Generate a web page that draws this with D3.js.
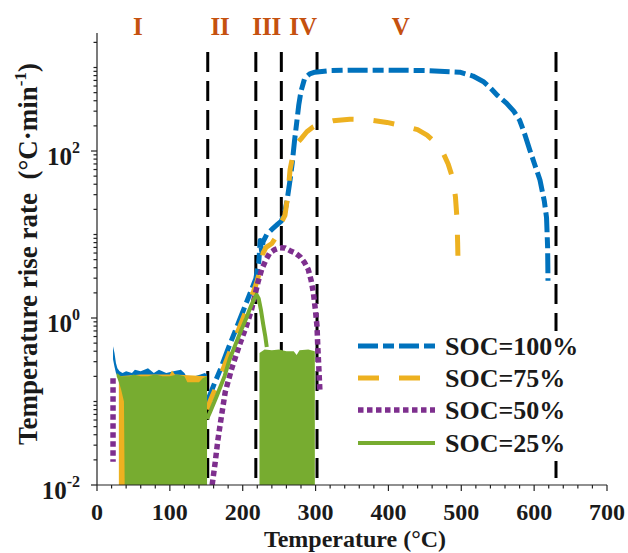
<!DOCTYPE html>
<html>
<head>
<meta charset="utf-8">
<script src="https://cdn.jsdelivr.net/npm/d3@7"></script>
<style>
  body { margin: 0; background: #fff; }
  text { font-family: "Liberation Serif", "Times New Roman", serif; font-weight: bold; }
</style>
</head>
<body>
<div id="chart"></div>
<script>
// temperature (°C) / rate (°C·min-1)
var blueNoise = [[22,0.46,0.32],[24,0.38,0.26],[26,0.29,0.22],[28,0.25,0.2],[31,0.23,0.18],[35,0.22,0.01],
  [40,0.23,0.01],[48,0.22,0.01],[52,0.24,0.01],[60,0.23,0.01],[70,0.25,0.01],[78,0.22,0.01],[85,0.24,0.01],
  [95,0.22,0.01],[105,0.23,0.01],[115,0.24,0.01],[120,0.22,0.01],[124,0.19,0.01],[128,0.17,0.01],
  [134,0.2,0.01],[142,0.21,0.01],[148,0.22,0.01],[151,0.21,0.01]];
var blueCurve = [[151,0.098],[160,0.155],[170,0.25],[180,0.43],[190,0.71],[200,1.18],[210,1.97],[218,2.95],
  [222,4.6],[224,8.5],[226,6.3],[228,8.2],[233,10],[240,11.5],[248,13.3],[253,14.5],[258,19],[261,26],
  [265,45],[268,72],[271,130],[274,215],[277,360],[280,520],[285,740],[292,840],[299,880],[320,920],
  [350,930],[400,930],[450,920],[498,880],[516,790],[530,680],[539,580],[550,460],[562,374],[572,300],
  [580,235],[587,160],[594,103],[601,68],[608,45],[614,25],[617,16],[618.5,7],[619,2.8]];
var orangeNoise = [[30,0.2,0.01],[60,0.21,0.01],[100,0.21,0.01],[103,0.235,0.01],[107,0.21,0.01],[151,0.2,0.01]];
var orangeCurve = [[152,0.08],[155,0.1],[165,0.16],[175,0.27],[185,0.45],[195,0.75],[205,1.25],[215,2.1],
  [220,2.8],[225,4.2],[228,6],[232,7],[240,7.8],[248,10],[253,14],[258,17],[262,30],[265,60],[270,100],
  [275,125],[280,140],[288,170],[297,195],[310,215],[324,230],[347,240],[370,238],[398,220],[420,200],
  [440,180],[453,155],[465,125],[475,95],[482,70],[489,45],[492,28],[494,16],[495,8],[495.5,4.8]];
var purpleStart = [[22,0.19],[22,0.019]];
var purpleCurve = [[158,0.01],[162,0.018],[166,0.035],[170,0.06],[176,0.13],[185,0.25],[195,0.46],
  [205,0.8],[212,1.25],[217,1.9],[221,2.7],[226,3.8],[232,5],[237,6],[244,6.6],
  [251,6.95],[258,6.9],[265,6.4],[272,6],[279,5.4],[285,4.6],[290,3.8],[294,2.8],[297,2.0],[300,1.2],
  [302,0.79],[303,0.46],[304.5,0.25],[306,0.13]];
var greenNoise1 = [[27,0.22,0.2],[30,0.21,0.17],[33,0.2,0.14],[37,0.2,0.1],[38,0.2,0.01],[45,0.2,0.01],
  [50,0.21,0.01],[60,0.2,0.01],[70,0.2,0.01],[80,0.21,0.01],[90,0.2,0.01],[100,0.2,0.01],[110,0.21,0.01],
  [120,0.2,0.01],[124,0.17,0.01],[140,0.17,0.01],[145,0.19,0.01],[151,0.2,0.01]];
var greenCurve = [[151,0.062],[155,0.074],[165,0.12],[175,0.2],[182,0.32],[190,0.48],[198,0.72],[205,1.0],
  [210,1.3],[215,1.65],[219,1.9],[222,1.7],[225,1.25],[228,0.85],[231,0.6],[233,0.45]];
var greenNoise2 = [[223,0.38,0.01],[230,0.42,0.01],[240,0.41,0.01],[250,0.42,0.01],[260,0.4,0.01],
  [270,0.4,0.01],[274,0.36,0.01],[278,0.41,0.01],[290,0.42,0.01],[299,0.4,0.01]];

var boundaries = [152, 218, 253, 302, 630];
var regionLabels = ["I", "II", "III", "IV", "V"];
var regionLabelT = [56, 169, 233, 283, 417];
var seriesNames = ["SOC=100%", "SOC=75%", "SOC=50%", "SOC=25%"];
var xTicks = [0, 100, 200, 300, 400, 500, 600, 700];
var yTickExp = [-2, 0, 2];

var colors = ["#0072BD", "#EDB120", "#7E2F8E", "#77AC30"];
var dashes = ["20,5,11,5", "21,20", "5.5,3.5", null];
var widths = [5, 5, 5.5, 4];

var W = 628, H = 553;
var svg = d3.select("#chart").append("svg").attr("width", W).attr("height", H);

var x = d3.scaleLinear().domain([0, 700]).range([97, 607]);
var y = d3.scaleLog().domain([0.01, 2590]).range([485, 33]);

svg.append("clipPath").attr("id", "clip")
   .append("rect").attr("x", 97).attr("y", 33).attr("width", 510).attr("height", 452);

var plot = svg.append("g").attr("clip-path", "url(#clip)");

// phase boundaries
plot.selectAll(".bound").data(boundaries).enter().append("line")
    .attr("x1", d => x(d)).attr("x2", d => x(d))
    .attr("y1", 52).attr("y2", 485)
    .attr("stroke", "#000").attr("stroke-width", 3).attr("stroke-dasharray", "20,9");

var line = d3.line().x(d => x(d[0])).y(d => y(d[1]));
var band = d3.area().x(d => x(d[0])).y0(d => y(d[2])).y1(d => y(d[1]));

function drawBand(data, i) {
  plot.append("path").attr("d", band(data)).attr("fill", colors[i]);
}
function drawLine(data, i) {
  plot.append("path").attr("d", line(data))
      .attr("fill", "none").attr("stroke", colors[i]).attr("stroke-width", widths[i])
      .attr("stroke-dasharray", dashes[i]).attr("stroke-linejoin", "round");
}

drawBand(blueNoise, 0);
drawLine(blueCurve, 0);
drawBand(orangeNoise, 1);
drawLine(orangeCurve, 1);
drawLine(purpleStart, 2);
drawLine(purpleCurve, 2);
drawBand(greenNoise1, 3);
drawBand(greenNoise2, 3);
drawLine(greenCurve, 3);

// axes
var xAxis = svg.append("g").attr("transform", "translate(0,485)");
xAxis.append("line").attr("x1", 97).attr("x2", 607).attr("stroke", "#222").attr("stroke-width", 1.2);
xAxis.selectAll(".minor").data(d3.range(0, 701, 20)).enter().append("line")
     .attr("x1", d => x(d)).attr("x2", d => x(d)).attr("y1", 0)
     .attr("y2", d => d % 100 === 0 ? 6 : 3.5)
     .attr("stroke", "#222").attr("stroke-width", 1.2);
xAxis.selectAll(".lab").data(xTicks).enter().append("text")
     .attr("x", d => x(d)).attr("y", 35).attr("text-anchor", "middle")
     .style("font-size", "24px").attr("fill", "#1a1a1a").text(d => d);

var yAxis = svg.append("g");
yAxis.append("line").attr("x1", 97).attr("x2", 97).attr("y1", 33).attr("y2", 485)
     .attr("stroke", "#222").attr("stroke-width", 1.2);
var yMinor = [];
for (var e = -2; e <= 3; e++) for (var m = 1; m <= 9; m++) {
  var v = m * Math.pow(10, e);
  if (v <= 2590) yMinor.push(v);
}
yAxis.selectAll(".ytick").data(yMinor).enter().append("line")
     .attr("x1", 97).attr("y1", d => y(d)).attr("y2", d => y(d))
     .attr("x2", d => yTickExp.indexOf(Math.round(Math.log10(d))) >= 0 && Math.abs(Math.log10(d) % 1) < 1e-9 ? 91 : 93.5)
     .attr("stroke", "#222").attr("stroke-width", 1.2);
var yl = yAxis.selectAll(".ylab").data(yTickExp).enter().append("text")
     .attr("x", 80).attr("y", d => y(Math.pow(10, d)) + 14).attr("text-anchor", "end")
     .attr("fill", "#1a1a1a").style("font-size", "25px");
yl.append("tspan").text("10");
yl.append("tspan").attr("dy", -12).style("font-size", "16px").text(d => d);

// axis titles
svg.append("text").attr("x", 355).attr("y", 547).attr("text-anchor", "middle")
   .style("font-size", "24px").attr("fill", "#1a1a1a").text("Temperature (°C)");
var yt = svg.append("text").attr("transform", "translate(37,254) rotate(-90)")
   .attr("text-anchor", "middle").style("font-size", "27px").attr("fill", "#1a1a1a");
yt.append("tspan").text("Temperature rise rate\u00a0\u00a0(°C·min");
yt.append("tspan").attr("dy", -11).style("font-size", "17px").text("-1");
yt.append("tspan").attr("dy", 11).text(")");

// region labels
svg.selectAll(".region").data(regionLabels).enter().append("text")
   .attr("x", (d, i) => x(regionLabelT[i])).attr("y", 35).attr("text-anchor", "middle")
   .style("font-size", "25px").attr("fill", "#C5510F").text(d => d);

// legend
var legend = svg.append("g");
legend.append("rect").attr("x", 346).attr("y", 331).attr("width", 246).attr("height", 130).attr("fill", "#fff");
var rowY = [346, 378, 410, 443];
seriesNames.forEach(function(name, i) {
  legend.append("line").attr("x1", 358).attr("x2", 435).attr("y1", rowY[i]).attr("y2", rowY[i])
        .attr("stroke", colors[i]).attr("stroke-width", widths[i]).attr("stroke-dasharray", dashes[i]);
  legend.append("text").attr("x", 445).attr("y", rowY[i] + 9)
        .style("font-size", "26px").attr("fill", "#1a1a1a").text(name);
});
</script>
</body>
</html>
